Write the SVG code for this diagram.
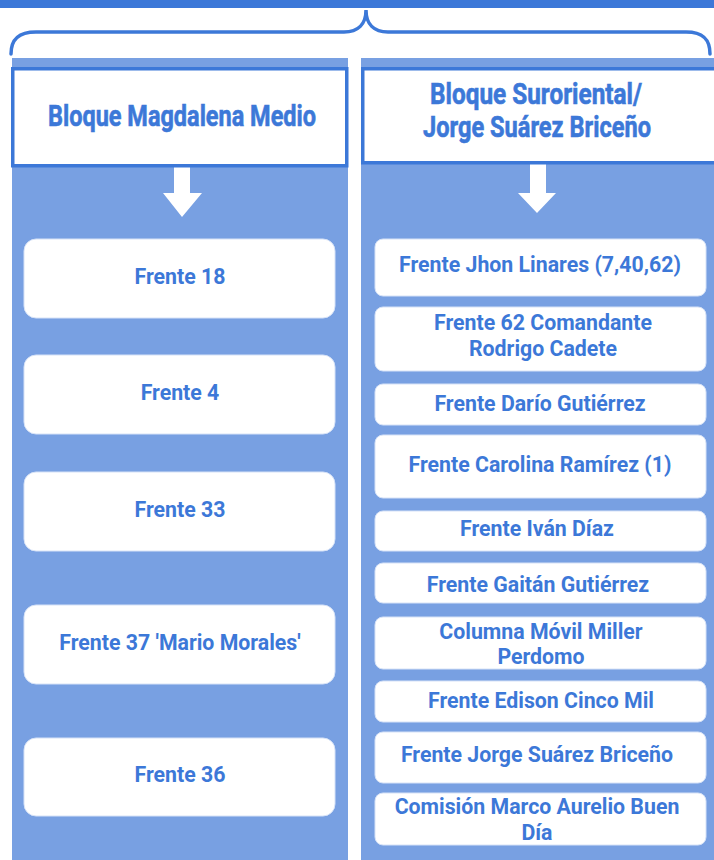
<svg xmlns="http://www.w3.org/2000/svg" width="714" height="860" viewBox="0 0 714 860">
<style>
.panel{fill:#78A0E2}
.hdr{fill:#fff;stroke:#3C78D8;stroke-width:3.5}
.ht{font-family:Roboto,"Liberation Sans",sans-serif;font-weight:700;font-size:29px;fill:#3C78D8;stroke:#3C78D8;stroke-width:0.6;text-anchor:middle}
.node{fill:#fff;stroke:#D6E2F7;stroke-width:1}
.nt{font-family:Roboto,"Liberation Sans",sans-serif;font-weight:700;font-size:21.3px;fill:#3C78D8;text-anchor:middle}
.arrow{fill:#fff}
</style>
<rect x="0" y="0" width="714" height="8" fill="#3C78D8"/>
<rect class="panel" x="12" y="58" width="336" height="802"/>
<rect class="panel" x="361" y="58" width="360" height="802"/>
<g id="connectors">
<path d="M11,54 C11,40 18,32 36,32 H344 C358,32 366,24 366,10 C366,24 374,32 388,32 H686 C704,32 710,40 710,54" fill="none" stroke="#3C78D8" stroke-width="3.5" stroke-linecap="round"/>
<polygon class="arrow" points="174,166 190,166 190,193 202,193 182,217 163,193 174,193"/>
<polygon class="arrow" points="530,163 546,163 546,193 556,193 537,213 518,193 530,193"/>
</g>
<g id="hdr-left">
<rect class="hdr" x="12.75" y="68.75" width="334" height="97"/>
<text class="ht" x="182" y="126" textLength="268" lengthAdjust="spacingAndGlyphs">Bloque Magdalena Medio</text>
</g>
<g id="hdr-right">
<rect class="hdr" x="362.75" y="68.75" width="360" height="94"/>
<text class="ht" x="536" y="104" textLength="212" lengthAdjust="spacingAndGlyphs">Bloque Suroriental/</text>
<text class="ht" x="537" y="137" textLength="228" lengthAdjust="spacingAndGlyphs">Jorge Suárez Briceño</text>
</g>
<g id="n-f18"><rect class="node" x="24" y="239" width="311" height="79" rx="12"/><text class="nt" x="180" y="284">Frente 18</text></g>
<g id="n-f4"><rect class="node" x="24" y="355" width="311" height="79" rx="12"/><text class="nt" x="180" y="400">Frente 4</text></g>
<g id="n-f33"><rect class="node" x="24" y="472" width="311" height="79" rx="12"/><text class="nt" x="180" y="517">Frente 33</text></g>
<g id="n-f37"><rect class="node" x="24" y="605" width="311" height="79" rx="12"/><text class="nt" x="180" y="650">Frente 37 'Mario Morales'</text></g>
<g id="n-f36"><rect class="node" x="24" y="738" width="311" height="78" rx="12"/><text class="nt" x="180" y="782">Frente 36</text></g>
<g id="n-jhon"><rect class="node" x="375" y="239" width="331" height="57" rx="8"/><text class="nt" x="540" y="272">Frente Jhon Linares (7,40,62)</text></g>
<g id="n-f62"><rect class="node" x="375" y="307" width="331" height="64" rx="8"/><text class="nt" x="543" y="330">Frente 62 Comandante</text><text class="nt" x="543" y="356">Rodrigo Cadete</text></g>
<g id="n-dario"><rect class="node" x="375" y="384" width="331" height="41" rx="8"/><text class="nt" x="540" y="411">Frente Darío Gutiérrez</text></g>
<g id="n-carolina"><rect class="node" x="375" y="435" width="331" height="63" rx="8"/><text class="nt" x="540" y="472">Frente Carolina Ramírez (1)</text></g>
<g id="n-ivan"><rect class="node" x="375" y="511" width="331" height="40" rx="8"/><text class="nt" x="537" y="536">Frente Iván Díaz</text></g>
<g id="n-gaitan"><rect class="node" x="375" y="563" width="331" height="40" rx="8"/><text class="nt" x="538" y="592">Frente Gaitán Gutiérrez</text></g>
<g id="n-columna"><rect class="node" x="375" y="617" width="331" height="52" rx="8"/><text class="nt" x="541" y="639">Columna Móvil Miller</text><text class="nt" x="541" y="664">Perdomo</text></g>
<g id="n-edison"><rect class="node" x="375" y="681" width="331" height="41" rx="8"/><text class="nt" x="541" y="708">Frente Edison Cinco Mil</text></g>
<g id="n-jorge"><rect class="node" x="375" y="732" width="331" height="51" rx="8"/><text class="nt" x="537" y="762">Frente Jorge Suárez Briceño</text></g>
<g id="n-comision"><rect class="node" x="375" y="793" width="331" height="52" rx="8"/><text class="nt" x="537" y="814">Comisión Marco Aurelio Buen</text><text class="nt" x="537" y="840">Día</text></g>
</svg>
